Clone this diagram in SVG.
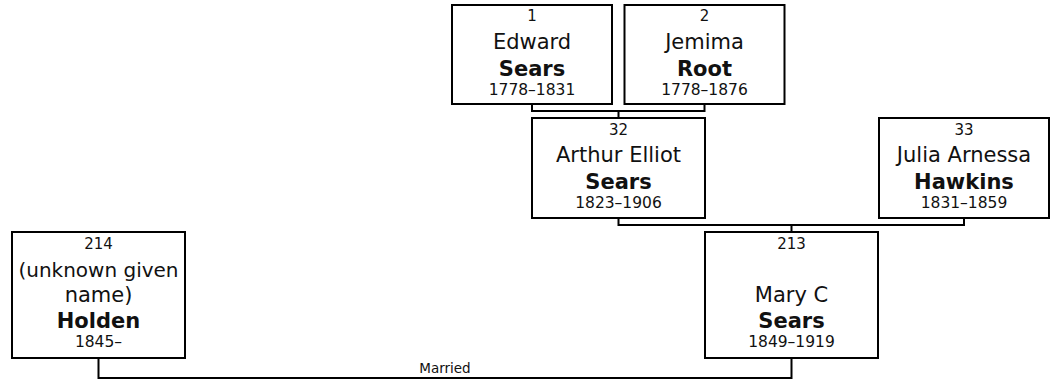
<svg xmlns="http://www.w3.org/2000/svg" width="1050" height="383" viewBox="0 0 1050 383">
<style>
.box{fill:#fff;stroke:#000;stroke-width:2}
.con{fill:none;stroke:#000;stroke-width:2}
text{font-family:"DejaVu Sans",Verdana,sans-serif;fill:#111;text-anchor:middle}
.num{font-size:15px}
.nm{font-size:21px}
.sn{font-size:21px;font-weight:bold}
.dt{font-size:15.5px}
.lbl{font-size:13.5px}
</style>
<rect width="1050" height="383" fill="#fff"/>
<g id="connectors">
<path class="con" d="M532,104 V111 H704.5 V104 M618.5,111 V118"/>
<path class="con" d="M618.5,218 V225 H964 V218 M791.5,225 V232"/>
<path class="con" d="M98.5,358 V378 H791.5 V358"/>
<text class="lbl" x="445" y="373">Married</text>
</g>
<g id="p1">
<rect class="box" x="452" y="5" width="160" height="99"/>
<text class="num" x="532" y="21">1</text>
<text class="nm" x="532" y="48.5">Edward</text>
<text class="sn" x="532" y="76">Sears</text>
<text class="dt" x="532" y="95">1778–1831</text>
</g>
<g id="p2">
<rect class="box" x="624.5" y="5" width="160" height="99"/>
<text class="num" x="704.5" y="21">2</text>
<text class="nm" x="704.5" y="48.5">Jemima</text>
<text class="sn" x="704.5" y="76">Root</text>
<text class="dt" x="704.5" y="95">1778–1876</text>
</g>
<g id="p32">
<rect class="box" x="532" y="118" width="173" height="100"/>
<text class="num" x="618.5" y="135">32</text>
<text class="nm" x="618.5" y="161.5">Arthur Elliot</text>
<text class="sn" x="618.5" y="189">Sears</text>
<text class="dt" x="618.5" y="208">1823–1906</text>
</g>
<g id="p33">
<rect class="box" x="879" y="118" width="170" height="100"/>
<text class="num" x="964" y="135">33</text>
<text class="nm" x="964" y="161.5">Julia Arnessa</text>
<text class="sn" x="964" y="189">Hawkins</text>
<text class="dt" x="964" y="208">1831–1859</text>
</g>
<g id="p213">
<rect class="box" x="705" y="232" width="173" height="126"/>
<text class="num" x="791.5" y="249">213</text>
<text class="nm" x="791.5" y="302">Mary C</text>
<text class="sn" x="791.5" y="328">Sears</text>
<text class="dt" x="791.5" y="347">1849–1919</text>
</g>
<g id="p214">
<rect class="box" x="12" y="232" width="173" height="126"/>
<text class="num" x="98.5" y="249">214</text>
<text class="nm" x="98.5" y="277" style="font-size:20px">(unknown given</text>
<text class="nm" x="98.5" y="302">name)</text>
<text class="sn" x="98.5" y="328">Holden</text>
<text class="dt" x="98.5" y="347">1845–</text>
</g>
</svg>
